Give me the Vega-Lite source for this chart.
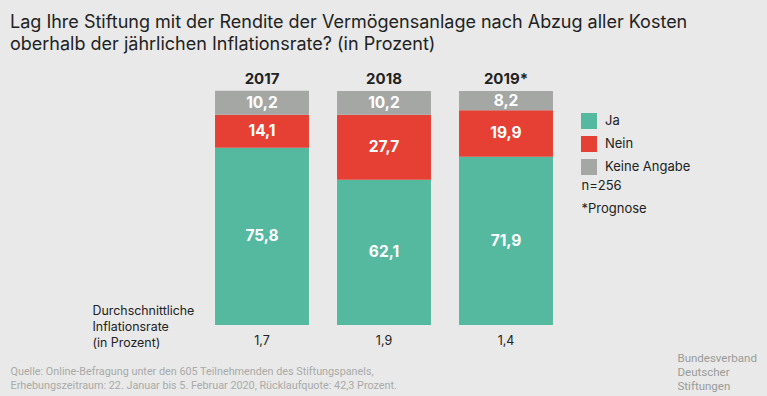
{
  "$schema": "https://vega.github.io/schema/vega-lite/v6.json",
  "width": 366,
  "height": 234,
  "autosize": "none",
  "padding": {"left": 201, "top": 91, "right": 200, "bottom": 71},
  "background": "#e8e9e8",
  "config": {
    "view": {"stroke": null},
    "font": "Inter",
    "locale": {"number": {"decimal": ",", "thousands": ".", "grouping": [3], "currency": ["", " €"]}}
  },
  "title": {
    "text": ["Lag Ihre Stiftung mit der Rendite der Vermögensanlage nach Abzug aller Kosten", "oberhalb der jährlichen Inflationsrate? (in Prozent)"],
    "anchor": "start",
    "frame": "group",
    "dx": -191,
    "fontSize": 18,
    "fontWeight": "normal",
    "color": "#222222",
    "lineHeight": 22,
    "offset": 17
  },
  "datasets": {
    "survey": [
      {"year": "2017", "answer": "Ja", "value": 75.8, "rank": 1},
      {"year": "2017", "answer": "Nein", "value": 14.1, "rank": 2},
      {"year": "2017", "answer": "Keine Angabe", "value": 10.2, "rank": 3},
      {"year": "2018", "answer": "Ja", "value": 62.1, "rank": 1},
      {"year": "2018", "answer": "Nein", "value": 27.7, "rank": 2},
      {"year": "2018", "answer": "Keine Angabe", "value": 10.2, "rank": 3},
      {"year": "2019*", "answer": "Ja", "value": 71.9, "rank": 1},
      {"year": "2019*", "answer": "Nein", "value": 19.9, "rank": 2},
      {"year": "2019*", "answer": "Keine Angabe", "value": 8.2, "rank": 3}
    ],
    "inflation": [
      {"year": "2017", "rate": 1.7},
      {"year": "2018", "rate": 1.9},
      {"year": "2019*", "rate": 1.4}
    ]
  },
  "layer": [
    {
      "data": {"name": "survey"},
      "mark": {"type": "bar"},
      "encoding": {
        "x": {
          "field": "year", "type": "nominal", "sort": ["2017", "2018", "2019*"],
          "scale": {"paddingInner": 0.23, "paddingOuter": 0.115},
          "axis": {
            "orient": "top", "labelFontWeight": "bold", "labelFontSize": 15, "labelColor": "#222222",
            "labelAngle": 0, "ticks": false, "domain": false, "labelPadding": 5,
            "title": ["Bundesverband", "Deutscher", "Stiftungen"],
            "titleX": 476, "titleY": 270, "titleAlign": "left", "titleBaseline": "alphabetic", "titleAngle": 0,
            "titleFont": "Roboto", "titleFontSize": 11.5, "titleFontWeight": "normal", "titleColor": "#9a9b9a", "titleLineHeight": 14
          }
        },
        "y": {
          "field": "value", "type": "quantitative", "stack": "zero", "scale": {"domain": [0, 100]},
          "axis": {
            "orient": "left", "labels": false, "ticks": false, "domain": false, "grid": false,
            "title": ["Quelle: Online-Befragung unter den 605 Teilnehmenden des Stiftungspanels,", "Erhebungszeitraum: 22. Januar bis 5. Februar 2020, Rücklaufquote: 42,3 Prozent."],
            "titleX": -191, "titleY": 283, "titleAngle": 0, "titleAlign": "left", "titleBaseline": "alphabetic",
            "titleFont": "Roboto", "titleFontSize": 10.8, "titleFontWeight": "normal", "titleColor": "#a9aaa9", "titleLineHeight": 14
          }
        },
        "color": {
          "field": "answer", "type": "nominal",
          "scale": {"domain": ["Ja", "Nein", "Keine Angabe"], "range": ["#55b9a0", "#e64034", "#a5a7a4"]},
          "legend": {
            "orient": "none", "legendX": 380, "legendY": 22, "title": null, "symbolType": "square",
            "symbolSize": 256, "symbolStrokeWidth": 0, "symbolOpacity": 1, "labelFontSize": 13, "labelColor": "#222222",
            "labelOffset": 8, "rowPadding": 7, "padding": 0
          }
        },
        "order": {"field": "rank", "type": "quantitative"}
      }
    },
    {
      "data": {"name": "survey"},
      "transform": [
        {"stack": "value", "groupby": ["year"], "sort": [{"field": "rank", "order": "ascending"}], "as": ["v0", "v1"]},
        {"fold": ["v0", "v1"], "as": ["edge", "pos"]},
        {"aggregate": [{"op": "mean", "field": "pos", "as": "mid"}], "groupby": ["year", "answer", "value"]}
      ],
      "mark": {"type": "text", "color": "white", "fontWeight": "bold", "fontSize": 15.5, "baseline": "middle"},
      "encoding": {
        "x": {"field": "year", "type": "nominal", "sort": ["2017", "2018", "2019*"], "axis": null},
        "y": {
          "field": "mid", "type": "quantitative", "scale": {"domain": [0, 100]},
          "axis": {
            "orient": "right", "labels": false, "ticks": false, "domain": false, "grid": false,
            "title": ["n=256", "*Prognose"],
            "titleX": 14, "titleY": 98, "titleAngle": 0, "titleAlign": "left", "titleBaseline": "alphabetic",
            "titleFontSize": 13, "titleFontWeight": "normal", "titleColor": "#222222", "titleLineHeight": 23
          }
        },
        "text": {"field": "value", "type": "quantitative", "format": ".1f"}
      }
    },
    {
      "data": {"name": "inflation"},
      "mark": {"type": "text", "color": "#222222", "fontSize": 12.5, "baseline": "middle"},
      "encoding": {
        "x": {
          "field": "year", "type": "nominal", "sort": ["2017", "2018", "2019*"],
          "axis": {
            "orient": "bottom", "labels": false, "ticks": false, "domain": false,
            "title": ["Durchschnittliche", "Inflationsrate", "(in Prozent)"],
            "titleX": -109, "titleY": -11, "titleAlign": "left", "titleBaseline": "alphabetic", "titleAngle": 0,
            "titleFontSize": 12.4, "titleFontWeight": "normal", "titleColor": "#222222", "titleLineHeight": 16
          }
        },
        "y": {"datum": -7, "type": "quantitative", "scale": {"domain": [0, 100]}, "axis": null},
        "text": {"field": "rate", "type": "quantitative", "format": ".1f"}
      }
    }
  ],
  "resolve": {"axis": {"x": "independent", "y": "independent"}}
}
